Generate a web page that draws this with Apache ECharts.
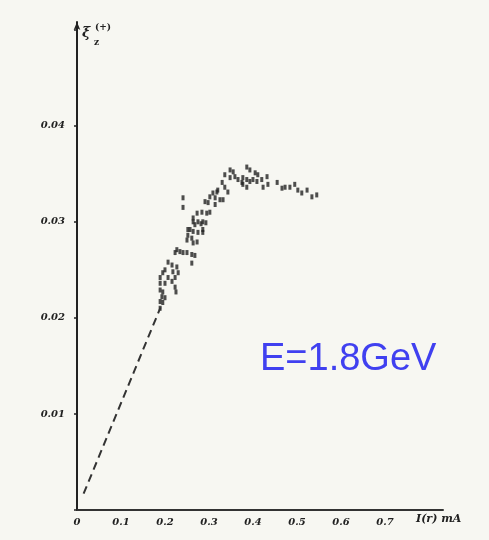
<!DOCTYPE html>
<html>
<head>
<meta charset="utf-8">
<script src="https://cdn.jsdelivr.net/npm/echarts@6/dist/echarts.min.js"></script>
<style>
  html, body { margin: 0; padding: 0; background: #f7f7f2; }
  #main { width: 489px; height: 540px; }
</style>
</head>
<body>
<div id="main"></div>
<script>
// 测量点 (I, ξ)
const pointsX = [
  0.264, 0.282, 0.293, 0.252, 0.264, 0.275, 0.286, 0.250, 0.264, 0.273,
  0.227, 0.234, 0.223, 0.241, 0.250, 0.261, 0.268, 0.261, 0.207, 0.216,
  0.227, 0.200, 0.195, 0.218, 0.230, 0.189, 0.207, 0.223, 0.189, 0.200,
  0.216, 0.223, 0.189, 0.195, 0.225, 0.193, 0.200, 0.189, 0.195, 0.189,
  0.241, 0.241, 0.348, 0.355, 0.336, 0.348, 0.359, 0.366, 0.375, 0.330,
  0.336, 0.320, 0.343, 0.309, 0.318, 0.302, 0.314, 0.325, 0.332, 0.291,
  0.298, 0.314, 0.284, 0.295, 0.302, 0.273, 0.264, 0.275, 0.286, 0.268,
  0.257, 0.252, 0.286, 0.261,
  0.386, 0.393, 0.405, 0.411, 0.377, 0.386, 0.400, 0.409, 0.377, 0.386,
  0.393, 0.420, 0.432, 0.434, 0.423, 0.455, 0.466, 0.473, 0.484, 0.495,
  0.502, 0.511, 0.523, 0.534, 0.545
];
const pointsY = [
  0.0300, 0.0298, 0.0299, 0.0292, 0.0290, 0.0289, 0.0289, 0.0281, 0.0278, 0.0279,
  0.0271, 0.0269, 0.0268, 0.0268, 0.0268, 0.0266, 0.0265, 0.0257, 0.0258, 0.0255,
  0.0253, 0.0250, 0.0247, 0.0248, 0.0247, 0.0242, 0.0242, 0.0242, 0.0236, 0.0236,
  0.0238, 0.0232, 0.0229, 0.0227, 0.0227, 0.0222, 0.0221, 0.0217, 0.0216, 0.0210,
  0.0325, 0.0315, 0.0354, 0.0352, 0.0349, 0.0346, 0.0347, 0.0344, 0.0341, 0.0341,
  0.0336, 0.0333, 0.0331, 0.0330, 0.0331, 0.0326, 0.0325, 0.0323, 0.0323, 0.0321,
  0.0320, 0.0318, 0.0310, 0.0309, 0.0310, 0.0309, 0.0304, 0.0300, 0.0300, 0.0297,
  0.0292, 0.0286, 0.0292, 0.0283,
  0.0357, 0.0354, 0.0351, 0.0349, 0.0346, 0.0344, 0.0344, 0.0342, 0.0339, 0.0336,
  0.0342, 0.0344, 0.0347, 0.0339, 0.0336, 0.0341, 0.0335, 0.0336, 0.0336, 0.0339,
  0.0333, 0.0330, 0.0333, 0.0326, 0.0328
];

// 外推的虚线
const lineX = [0.015, 0.19];
const lineY = [0.0017, 0.0211];

const energyLabel = 'E=1.8GeV';

const handFont = 'DejaVu Serif';
const ink = '#222';

const myChart = echarts.init(document.getElementById('main'));

const option = {
  backgroundColor: '#f7f7f2',
  animation: false,
  grid: { left: 77, right: 46, top: 22, bottom: 30 },
  xAxis: {
    type: 'value',
    min: 0,
    max: 0.832,
    interval: 0.1,
    splitLine: { show: false },
    axisLine: { lineStyle: { color: '#333', width: 2 } },
    axisTick: { show: false },
    axisLabel: {
      margin: 7,
      color: ink,
      fontFamily: handFont,
      fontStyle: 'italic',
      fontWeight: 'bold',
      fontSize: 10,
      showMaxLabel: false,
      formatter(v) {
        if (v > 0.75) return '';
        return v === 0 ? '0' : v.toFixed(1);
      }
    }
  },
  yAxis: {
    type: 'value',
    min: 0,
    max: 0.0508,
    interval: 0.01,
    splitLine: { show: false },
    axisLine: {
      lineStyle: { color: ink, width: 2 },
      symbol: ['none', 'arrow'],
      symbolSize: [5, 8]
    },
    axisTick: { show: true, inside: false, length: 3, lineStyle: { color: ink, width: 1.5 } },
    axisLabel: {
      margin: 12,
      color: ink,
      fontFamily: handFont,
      fontStyle: 'italic',
      fontWeight: 'bold',
      fontSize: 10,
      showMaxLabel: false,
      formatter(v) {
        if (v === 0 || v > 0.045) return '';
        return v.toFixed(2);
      }
    }
  },
  graphic: [
    { type: 'text', left: 82, top: 26, style: { text: 'ξ', font: 'italic bold 14px DejaVu Serif', fill: ink } },
    { type: 'text', left: 95, top: 23, style: { text: '(+)', font: 'bold 9px DejaVu Serif', fill: ink } },
    { type: 'text', left: 94, top: 38, style: { text: 'z', font: 'bold 9px DejaVu Serif', fill: ink } },
    { type: 'text', left: 416, top: 514, style: { text: 'I(r) mA', font: 'italic bold 11px DejaVu Serif', fill: ink } },
    {
      type: 'text', left: 260, top: 341,
      style: { text: energyLabel, font: '38px "Liberation Sans", Arial, sans-serif', fill: '#4040f0' }
    }
  ],
  series: [
    {
      type: 'line',
      data: lineX.map((x, i) => [x, lineY[i]]),
      symbol: 'none',
      lineStyle: { color: '#333', width: 2, type: [8, 5] }
    },
    {
      type: 'scatter',
      data: pointsX.map((x, i) => [x, pointsY[i]]),
      symbol: 'rect',
      symbolSize: [3, 5],
      itemStyle: { color: '#222' }
    }
  ]
};

myChart.setOption(option);
</script>
</body>
</html>
